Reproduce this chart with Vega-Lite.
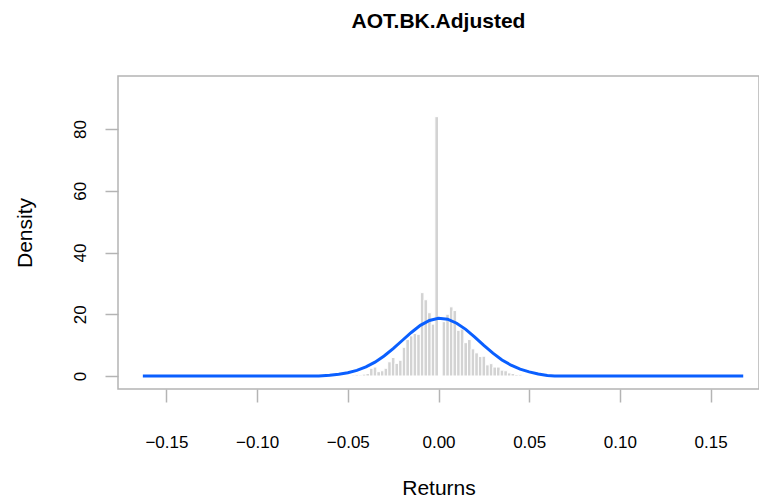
{
  "$schema": "https://vega.github.io/schema/vega-lite/v6.json",
  "autosize": "none",
  "width": 641,
  "height": 313,
  "padding": {"left": 118, "top": 76, "right": 0, "bottom": 110},
  "background": "white",
  "config": {
    "font": "Liberation Sans",
    "view": {"stroke": "#b4b4b4", "strokeWidth": 1.5}
  },
  "title": {
    "text": "AOT.BK.Adjusted",
    "fontSize": 21,
    "fontWeight": "bold",
    "color": "#000000",
    "anchor": "middle",
    "baseline": "alphabetic",
    "offset": 27
  },
  "datasets": {
    "hist": [
      {"lo": -0.048, "hi": -0.046, "density": 0.3},
      {"lo": -0.046, "hi": -0.044, "density": 0.4},
      {"lo": -0.044, "hi": -0.042, "density": 0.3},
      {"lo": -0.042, "hi": -0.040, "density": 0.6},
      {"lo": -0.040, "hi": -0.038, "density": 0.8},
      {"lo": -0.038, "hi": -0.036, "density": 2.5},
      {"lo": -0.036, "hi": -0.034, "density": 2.9},
      {"lo": -0.034, "hi": -0.032, "density": 1.4},
      {"lo": -0.032, "hi": -0.030, "density": 1.7},
      {"lo": -0.030, "hi": -0.028, "density": 2.5},
      {"lo": -0.028, "hi": -0.026, "density": 4.6},
      {"lo": -0.026, "hi": -0.024, "density": 6.0},
      {"lo": -0.024, "hi": -0.022, "density": 4.1},
      {"lo": -0.022, "hi": -0.020, "density": 5.1},
      {"lo": -0.020, "hi": -0.018, "density": 9.3},
      {"lo": -0.018, "hi": -0.016, "density": 11.8},
      {"lo": -0.016, "hi": -0.014, "density": 13.0},
      {"lo": -0.014, "hi": -0.012, "density": 13.8},
      {"lo": -0.012, "hi": -0.010, "density": 13.5},
      {"lo": -0.010, "hi": -0.008, "density": 27.0},
      {"lo": -0.008, "hi": -0.006, "density": 24.7},
      {"lo": -0.006, "hi": -0.004, "density": 20.5},
      {"lo": -0.004, "hi": -0.002, "density": 16.8},
      {"lo": -0.002, "hi": 0.000, "density": 84.0},
      {"lo": 0.000, "hi": 0.002, "density": 0.0},
      {"lo": 0.002, "hi": 0.004, "density": 17.6},
      {"lo": 0.004, "hi": 0.006, "density": 20.0},
      {"lo": 0.006, "hi": 0.008, "density": 22.4},
      {"lo": 0.008, "hi": 0.010, "density": 21.2},
      {"lo": 0.010, "hi": 0.012, "density": 14.8},
      {"lo": 0.012, "hi": 0.014, "density": 15.2},
      {"lo": 0.014, "hi": 0.016, "density": 10.8},
      {"lo": 0.016, "hi": 0.018, "density": 11.8},
      {"lo": 0.018, "hi": 0.020, "density": 8.8},
      {"lo": 0.020, "hi": 0.022, "density": 7.5},
      {"lo": 0.022, "hi": 0.024, "density": 6.3},
      {"lo": 0.024, "hi": 0.026, "density": 6.4},
      {"lo": 0.026, "hi": 0.028, "density": 3.6},
      {"lo": 0.028, "hi": 0.030, "density": 4.0},
      {"lo": 0.030, "hi": 0.032, "density": 2.9},
      {"lo": 0.032, "hi": 0.034, "density": 2.9},
      {"lo": 0.034, "hi": 0.036, "density": 1.9},
      {"lo": 0.036, "hi": 0.038, "density": 1.7},
      {"lo": 0.038, "hi": 0.040, "density": 1.0},
      {"lo": 0.040, "hi": 0.042, "density": 0.8},
      {"lo": 0.042, "hi": 0.044, "density": 0.5},
      {"lo": 0.044, "hi": 0.046, "density": 0.4}
    ],
    "curve": [
      {"x": -0.163, "y": 0},
      {"x": -0.100, "y": 0},
      {"x": -0.066, "y": 0},
      {"x": -0.060, "y": 0.25},
      {"x": -0.055, "y": 0.59},
      {"x": -0.050, "y": 1.06},
      {"x": -0.045, "y": 1.82},
      {"x": -0.040, "y": 2.94},
      {"x": -0.035, "y": 4.48},
      {"x": -0.030, "y": 6.48},
      {"x": -0.025, "y": 8.88},
      {"x": -0.020, "y": 11.5},
      {"x": -0.015, "y": 14.1},
      {"x": -0.010, "y": 16.4},
      {"x": -0.005, "y": 18.0},
      {"x": 0.000, "y": 18.68},
      {"x": 0.005, "y": 18.4},
      {"x": 0.010, "y": 17.1},
      {"x": 0.015, "y": 15.1},
      {"x": 0.020, "y": 12.6},
      {"x": 0.025, "y": 9.9},
      {"x": 0.030, "y": 7.4},
      {"x": 0.035, "y": 5.2},
      {"x": 0.040, "y": 3.5},
      {"x": 0.045, "y": 2.2},
      {"x": 0.050, "y": 1.33},
      {"x": 0.055, "y": 0.65},
      {"x": 0.060, "y": 0.15},
      {"x": 0.064, "y": 0},
      {"x": 0.100, "y": 0},
      {"x": 0.168, "y": 0}
    ]
  },
  "layer": [
    {
      "data": {"name": "hist"},
      "mark": {"type": "rect", "fill": "#d3d3d3", "stroke": "#ffffff", "strokeWidth": 1},
      "encoding": {
        "x": {
          "field": "lo", "type": "quantitative",
          "scale": {"domain": [-0.1767, 0.1767], "nice": false, "zero": false},
          "axis": {
            "values": [-0.15, -0.10, -0.05, 0, 0.05, 0.10, 0.15],
            "format": ".2f",
            "domain": false,
            "grid": false,
            "tickColor": "#b4b4b4",
            "tickWidth": 1.5,
            "tickSize": 13,
            "labelFont": "Liberation Sans",
            "labelFontSize": 17,
            "labelColor": "#000000",
            "labelBaseline": "alphabetic",
            "labelPadding": 45,
            "title": "Returns",
            "titleFont": "Liberation Sans",
            "titleFontSize": 21,
            "titleFontWeight": "normal",
            "titleColor": "#000000",
            "titleBaseline": "alphabetic",
            "titleY": 105,
            "titleX": 320.5
          }
        },
        "x2": {"field": "hi"},
        "y": {
          "field": "density", "type": "quantitative",
          "scale": {"domain": [-4.21, 97.17], "nice": false, "zero": false},
          "axis": {
            "values": [0, 20, 40, 60, 80],
            "domain": false,
            "grid": false,
            "tickColor": "#b4b4b4",
            "tickWidth": 1.5,
            "tickSize": 13,
            "labelFont": "Liberation Sans",
            "labelFontSize": 17,
            "labelColor": "#000000",
            "labelAngle": 270,
            "labelAlign": "center",
            "labelBaseline": "alphabetic",
            "labelPadding": 20,
            "title": "Density",
            "titleFont": "Liberation Sans",
            "titleFontSize": 21,
            "titleFontWeight": "normal",
            "titleColor": "#000000",
            "titleAngle": 270,
            "titleBaseline": "alphabetic",
            "titleX": -87,
            "titleY": 156.5
          }
        },
        "y2": {"datum": 0}
      }
    },
    {
      "data": {"name": "curve"},
      "mark": {"type": "line", "color": "#0a5fff", "strokeWidth": 3},
      "encoding": {
        "x": {"field": "x", "type": "quantitative"},
        "y": {"field": "y", "type": "quantitative"}
      }
    }
  ]
}
